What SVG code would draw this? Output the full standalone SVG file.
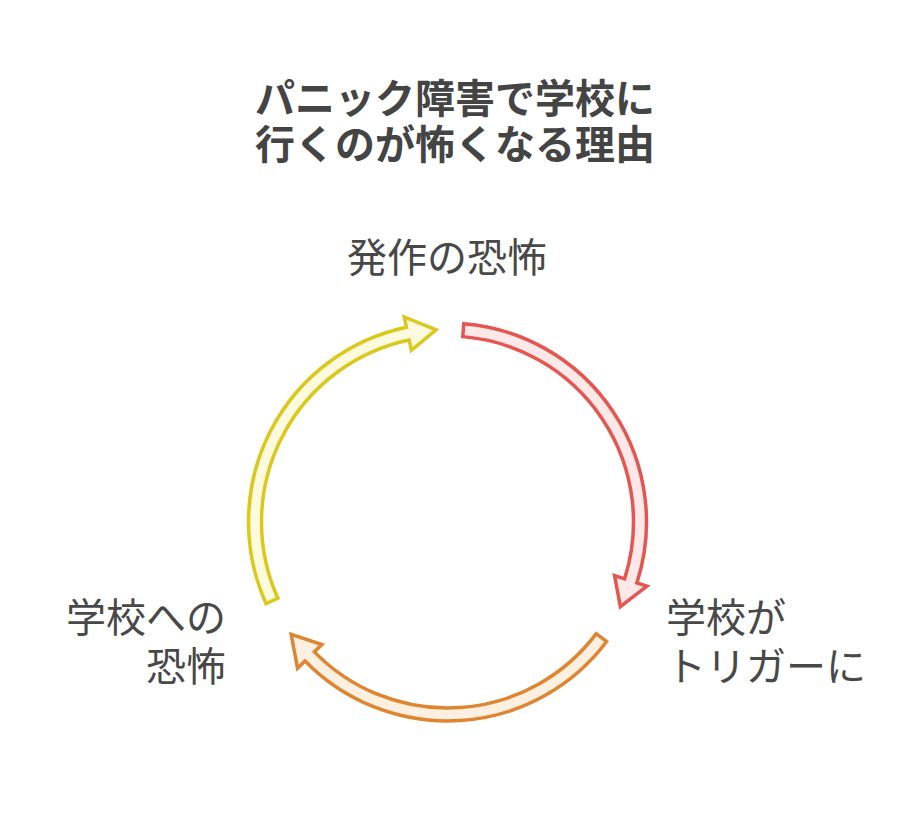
<svg xmlns="http://www.w3.org/2000/svg" width="916" height="828" viewBox="0 0 916 828">
<style>
.t{font-family:"Noto Sans CJK JP","Noto Sans",sans-serif;fill:#484848;font-size:40px}
.b{font-weight:bold;fill:#444444}
.a{stroke-width:3.5;stroke-linejoin:miter}
.y{fill:#fefadd;stroke:#dcc81a}
.r{fill:#ffe9e8;stroke:#e55651}
.o{fill:#fef0e0;stroke:#e0852f}
</style>
<rect width="916" height="828" fill="#ffffff"/>
<g id="title">
<text class="t b" x="455" y="113" text-anchor="middle">パニック障害で学校に</text>
<text class="t b" x="455" y="158.5" text-anchor="middle">行くのが怖くなる理由</text>
</g>
<g id="connectors">
<path id="arrow-yellow" class="a y" d="M265.99,603.57 A199,199 0 0 1 406.47,327.28 L404.30,317.00 L436.08,329.85 L411.31,350.27 L409.15,340.00 A186,186 0 0 0 277.85,598.24 Z"/>
<path id="arrow-red" class="a r" d="M463.80,323.68 A199,199 0 0 1 636.97,582.83 L646.96,586.04 L620.37,606.68 L614.59,575.65 L624.59,578.86 A186,186 0 0 0 462.73,336.63 Z"/>
<path id="arrow-orange" class="a o" d="M606.64,641.48 A199,199 0 0 1 305.08,660.98 L297.56,668.31 L291.17,634.32 L321.89,644.57 L314.38,651.90 A186,186 0 0 0 596.24,633.67 Z"/>
</g>
<g id="node-fear-of-attack">
<text class="t" x="447" y="271.5" text-anchor="middle">発作の恐怖</text>
</g>
<g id="node-school-trigger">
<text class="t" x="666" y="631.5">学校が</text>
<text class="t" x="666" y="681">トリガーに</text>
</g>
<g id="node-fear-of-school">
<text class="t" x="226" y="631.5" text-anchor="end">学校への</text>
<text class="t" x="226" y="681" text-anchor="end">恐怖</text>
</g>
</svg>
